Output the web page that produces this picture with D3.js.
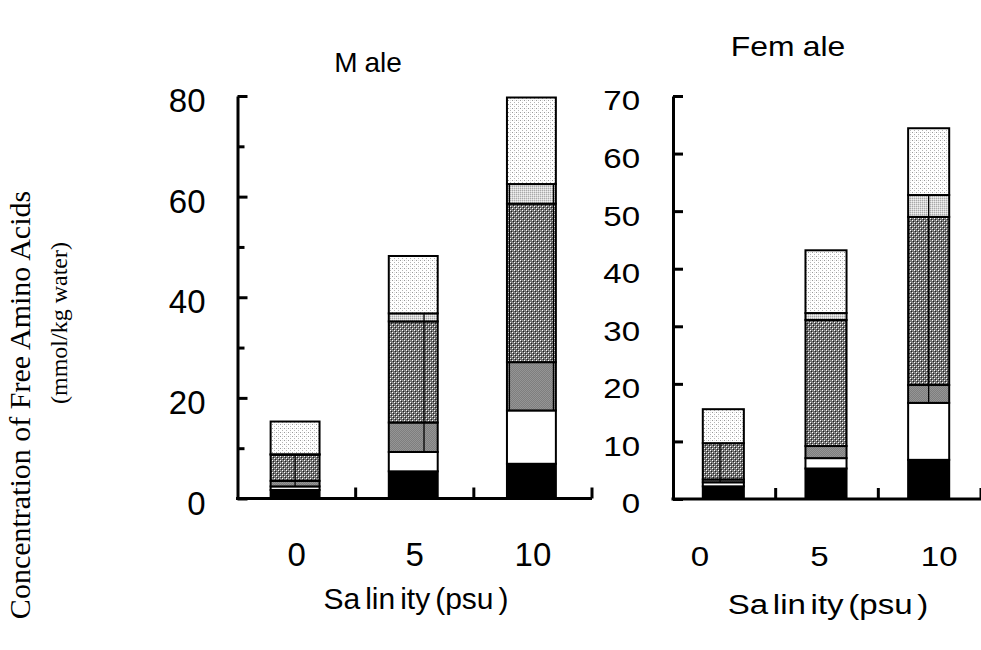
<!DOCTYPE html>
<html>
<head>
<meta charset="utf-8">
<script src="https://cdn.jsdelivr.net/npm/d3@7"></script>
<style>
  html, body { margin: 0; padding: 0; background: #fff; }
  svg { display: block; }
  text { fill: #000; }
</style>
</head>
<body>
<svg id="chart" width="981" height="650"></svg>
<script>
// Salinity groups (psu)
const categories = ["0", "5", "10"];
// Stacked components, bottom to top
const componentKeys = ["c1", "c2", "c3", "c4", "c5", "c6"];

// Male: component values (mmol/kg water) per salinity group
const male0  = [1.7, 0.7, 1.1, 5.2, 0.1, 6.5];
const male5  = [5.4, 3.85, 5.85, 20.1, 1.6, 11.4];
const male10 = [6.9, 10.6, 9.6, 31.5, 3.9, 17.2];

// Female: component values (mmol/kg water) per salinity group
const female0  = [2.2, 0.7, 0.5, 6.3, 0.0, 5.9];
const female5  = [5.3, 1.8, 2.1, 21.9, 1.2, 10.9];
const female10 = [6.8, 9.9, 3.1, 29.2, 3.8, 11.6];

// Axis ticks
const maleTicks = [0, 20, 40, 60, 80];
const maleMinorTicks = [10, 30, 50, 70];
const femaleTicks = [0, 10, 20, 30, 40, 50, 60, 70];

// Thin vertical rules drawn inside some stacks: [group, from component, to component, fraction across bar]
const maleRules = [["0", 2, 3, 0.5], ["5", 2, 4, 0.72], ["10", 2, 4, 0.05], ["10", 2, 4, 0.95]];
const femaleRules = [["0", 2, 3, 0.42], ["10", 2, 4, 0.5]];

const svg = d3.select("#chart");
const defs = svg.append("defs");

// Fill patterns for the six components
function pixelPattern(id, size, bg, pixels) {
  const p = defs.append("pattern").attr("id", id)
    .attr("patternUnits", "userSpaceOnUse").attr("width", size).attr("height", size);
  p.append("rect").attr("width", size).attr("height", size).attr("fill", bg);
  pixels.forEach(([x, y, c]) => p.append("rect").attr("x", x).attr("y", y)
    .attr("width", 1).attr("height", 1).attr("fill", c));
}
pixelPattern("p-dotted", 4, "#ffffff", [[0, 0, "#9a9a9a"], [2, 2, "#b5b5b5"], [2, 0, "#e0e0e0"]]);
pixelPattern("p-light", 2, "#d6d6d6", [[0, 0, "#a8a8a8"], [1, 1, "#f0f0f0"]]);
pixelPattern("p-check", 4, "#6e6e6e", [[0, 0, "#ffffff"], [2, 2, "#ffffff"], [1, 1, "#1e1e1e"], [3, 3, "#1e1e1e"], [2, 0, "#9a9a9a"], [0, 2, "#9a9a9a"]]);
pixelPattern("p-gray", 2, "#7e7e7e", [[0, 0, "#959595"], [1, 1, "#959595"]]);

const fills = {
  c1: "#000000",
  c2: "#ffffff",
  c3: "url(#p-gray)",
  c4: "url(#p-check)",
  c5: "url(#p-light)",
  c6: "url(#p-dotted)"
};

function toTable(rows) {
  return categories.map((cat, i) => {
    const o = { group: cat };
    componentKeys.forEach((k, j) => { o[k] = rows[i][j]; });
    return o;
  });
}

const stack = d3.stack().keys(componentKeys);
const sans = "Liberation Sans, Arial, sans-serif";

function drawPanel(cfg) {
  const g = svg.append("g");
  const x = d3.scaleBand().domain(categories).range([cfg.x0, cfg.x1]);
  const y = d3.scaleLinear().domain(cfg.yDomain).range([cfg.yBottom, cfg.yTop]);
  const barW = x.bandwidth() * cfg.barRatio;
  const bx = d => x(d) + (x.bandwidth() - barW) / 2 + cfg.barShift;

  const series = stack(toTable(cfg.rows));

  // Stacked bars
  const layers = g.append("g").selectAll("g").data(series).join("g")
    .attr("fill", d => fills[d.key]);
  layers.selectAll("rect").data(d => d.filter(s => s[1] - s[0] > 0)).join("rect")
    .attr("x", d => bx(d.data.group))
    .attr("width", barW)
    .attr("y", d => y(d[1]))
    .attr("height", d => y(d[0]) - y(d[1]))
    .attr("stroke", "#000")
    .attr("stroke-width", 2);

  // Inner vertical rules
  const byGroup = {};
  series.forEach((s, j) => s.forEach(d => {
    (byGroup[d.data.group] = byGroup[d.data.group] || [])[j] = d;
  }));
  g.append("g").selectAll("line").data(cfg.rules).join("line")
    .attr("x1", r => bx(r[0]) + barW * r[3])
    .attr("x2", r => bx(r[0]) + barW * r[3])
    .attr("y1", r => y(byGroup[r[0]][r[2]][1]))
    .attr("y2", r => y(byGroup[r[0]][r[1]][0]))
    .attr("stroke", "#000").attr("stroke-width", 1.3);

  // Y axis: major ticks pointing inward
  const yAxis = g.append("g").attr("transform", `translate(${cfg.x0},0)`)
    .call(d3.axisLeft(y).tickValues(cfg.ticks).tickSize(-10).tickSizeOuter(0)
      .tickPadding(cfg.tickPad).tickFormat(d3.format("d")));
  yAxis.select(".domain").attr("stroke-width", 3).attr("stroke", "#000");
  yAxis.selectAll(".tick line").attr("stroke-width", 3).attr("stroke", "#000");
  yAxis.selectAll(".tick text")
    .attr("font-family", sans)
    .attr("font-size", cfg.fontSize)
    .attr("dy", "0.32em")
    .each(function() {
      const t = d3.select(this);
      const tx = +t.attr("x") || 0;
      t.attr("x", tx / cfg.textStretch)
        .attr("y", 5)
        .attr("transform", `scale(${cfg.textStretch},1)`);
    });

  if (cfg.minor) {
    const minor = g.append("g").attr("transform", `translate(${cfg.x0},0)`)
      .call(d3.axisLeft(y).tickValues(cfg.minor).tickSize(-7).tickFormat(""));
    minor.select(".domain").remove();
    minor.selectAll(".tick line").attr("stroke-width", 3).attr("stroke", "#000");
  }

  // X baseline with group separators
  g.append("line")
    .attr("x1", cfg.x0 - 1.5).attr("x2", cfg.x1)
    .attr("y1", y(0)).attr("y2", y(0))
    .attr("stroke", "#000").attr("stroke-width", 3);
  g.append("g").selectAll("line").data(categories).join("line")
    .attr("x1", d => x(d) + x.bandwidth()).attr("x2", d => x(d) + x.bandwidth())
    .attr("y1", y(0)).attr("y2", y(0) - 11)
    .attr("stroke", "#000").attr("stroke-width", 3);

  // Group labels
  const lx = d3.scaleBand().domain(categories).range(cfg.labelRange);
  g.append("g").selectAll("text").data(categories).join("text")
    .attr("transform", d => `translate(${lx(d) + lx.bandwidth() / 2},${cfg.labelY}) scale(${cfg.textStretch},1)`)
    .attr("text-anchor", "middle")
    .attr("font-family", sans)
    .attr("font-size", cfg.fontSize)
    .text(d => d);

  // Axis title
  const xt = g.append("text")
    .attr("transform", `translate(${cfg.xTitleX},${cfg.xTitleY}) scale(${cfg.textStretch},1)`)
    .attr("text-anchor", "middle")
    .attr("font-family", sans)
    .attr("font-size", cfg.xTitleSize);
  cfg.xTitleParts.forEach((p, i) => xt.append("tspan").attr("dx", i ? cfg.xTitleGap : 0).text(p));

  // Panel title
  const tt = g.append("text")
    .attr("transform", `translate(${cfg.titleX},${cfg.titleY}) scale(${cfg.textStretch},1)`)
    .attr("text-anchor", "middle")
    .attr("font-family", sans)
    .attr("font-size", cfg.titleSize);
  cfg.titleParts.forEach((p, i) => tt.append("tspan").attr("dx", i ? 7 : 0).text(p));
}

drawPanel({
  rows: [male0, male5, male10],
  x0: 237.5, x1: 592, yDomain: [0, 80], yBottom: 498.5, yTop: 96,
  barRatio: 0.414, barShift: -1.5,
  ticks: maleTicks, minor: maleMinorTicks, tickPad: 32,
  fontSize: 33, textStretch: 1,
  labelRange: [237.5, 592], labelY: 566,
  xTitleX: 416, xTitleY: 609, xTitleSize: 30,
  xTitleParts: ["Sa", "lin", "ity", "(psu", ")"], xTitleGap: 5,
  titleX: 368, titleY: 72, titleSize: 28, titleParts: ["M", "ale"],
  rules: maleRules
});

drawPanel({
  rows: [female0, female5, female10],
  x0: 673, x1: 981, yDomain: [0, 70], yBottom: 499, yTop: 96,
  barRatio: 0.40, barShift: -1,
  ticks: femaleTicks, minor: null, tickPad: 33,
  fontSize: 28, textStretch: 1.18,
  labelRange: [640, 999], labelY: 566,
  xTitleX: 828, xTitleY: 614, xTitleSize: 28,
  xTitleParts: ["Sa", "lin", "ity", "(psu", ")"], xTitleGap: 4,
  titleX: 788, titleY: 56, titleSize: 27, titleParts: ["Fem", "ale"],
  rules: femaleRules
});

// Shared y-axis title
const yTitle = svg.append("g").attr("font-family", "Liberation Serif, Times New Roman, serif");
yTitle.append("text")
  .attr("transform", "translate(30,405) rotate(-90)")
  .attr("text-anchor", "middle")
  .attr("font-size", 30)
  .text("Concentration of Free Amino Acids");
yTitle.append("text")
  .attr("transform", "translate(67,323) rotate(-90)")
  .attr("text-anchor", "middle")
  .attr("font-size", 24)
  .text("(mmol/kg water)");
</script>
</body>
</html>
